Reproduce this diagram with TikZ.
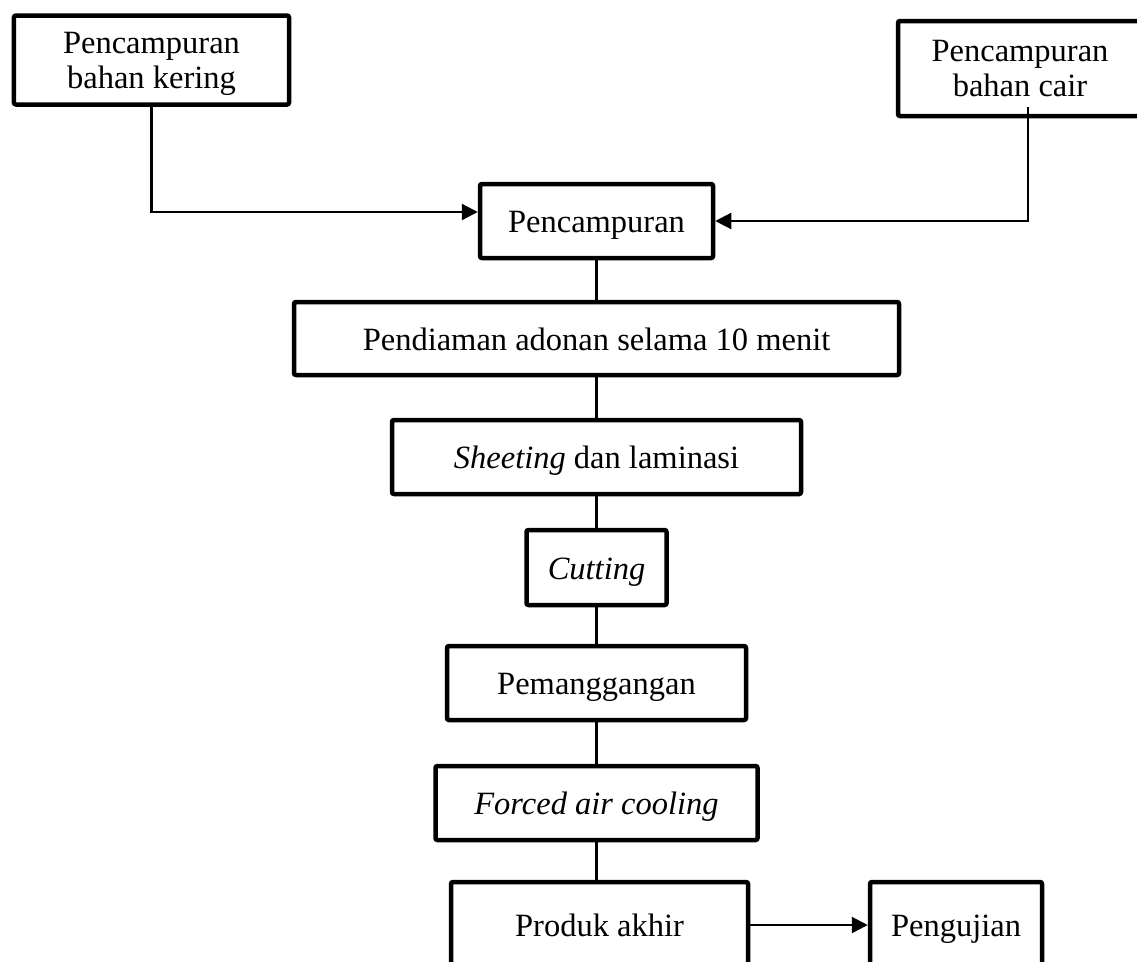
\documentclass[tikz,border=0pt]{standalone}
\usepackage{fontspec}
\setmainfont{Liberation Serif}
\usetikzlibrary{arrows.meta, positioning}

\begin{document}
\begin{tikzpicture}[x=0.4pt, y=-0.4pt,
  box/.style={draw, line width=1.8pt, rounded corners=0.8pt, align=center, inner sep=0pt, font=\fontsize{13}{14}\selectfont},
  twobox/.style={box, text depth=0pt},
  onebox/.style={box, text height=11pt, text depth=1.5pt},
  line/.style={line width=0.9pt},
  arrow/.style={line width=0.9pt, -{Triangle[length=6.4pt, width=6.4pt]}}]
  \clip (0,0) rectangle (1137,961);

  % Mixing inputs
  \node[twobox, minimum width=110pt, minimum height=35.6pt] (kering) at (151.5,60) {Pencampuran\\bahan kering};
  \node[twobox, minimum width=97.6pt, minimum height=38pt] (cair) at (1020,68.5) {Pencampuran\\bahan cair};
  \coordinate (cairdown) at (1028,107);

  % Main process column
  \node[onebox, minimum width=93.2pt, minimum height=29.6pt] (campur) at (596.5,221) {Pencampuran};
  \node[onebox, minimum width=242pt, minimum height=29.2pt] (diam) at (596.5,338.5) {Pendiaman adonan selama 10 menit};
  \node[onebox, minimum width=163.6pt, minimum height=29.6pt] (sheet) at (596.5,457) {\textit{Sheeting} dan laminasi};
  \node[onebox, minimum width=56pt, minimum height=30pt] (cut) at (596.5,567.5) {\textit{Cutting}};
  \node[onebox, minimum width=119.6pt, minimum height=29.6pt] (panggang) at (596.5,683) {Pemanggangan};
  \node[onebox, minimum width=128.8pt, minimum height=29.6pt] (cool) at (596.5,803) {\textit{Forced air cooling}};
  \node[onebox, minimum width=118.8pt, minimum height=34.4pt] (produk) at (599.5,925) {Produk akhir};
  \node[onebox, minimum width=68.8pt, minimum height=34.4pt] (uji) at (956,925) {Pengujian};

  % Connectors
  \draw[arrow] (kering.south) |- ([yshift=3.6pt]campur.west);
  \draw[arrow] (cairdown) |- (campur.east);
  \draw[line] (campur) -- (diam);
  \draw[line] (diam) -- (sheet);
  \draw[line] (sheet) -- (cut);
  \draw[line] (cut) -- (panggang);
  \draw[line] (panggang) -- (cool);
  \draw[line] (cool.south) -- (cool.south |- produk.north);
  \draw[arrow] (produk) -- (uji);
\end{tikzpicture}
\end{document}
